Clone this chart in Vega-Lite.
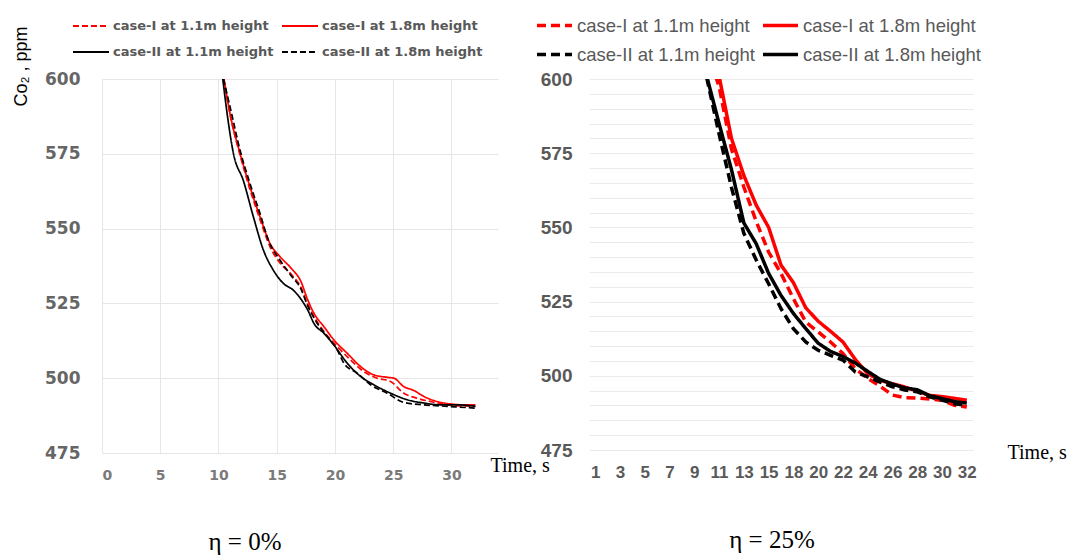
{
  "$schema": "https://vega.github.io/schema/vega-lite/v6.json",
  "background": "white",
  "padding": {"left": 12, "top": 6, "right": 0, "bottom": 0},
  "bounds": "flush",
  "spacing": 91,
  "config": {
    "view": {"stroke": null},
    "axis": {"domain": false, "ticks": false, "gridColor": "#e6e6e6", "gridWidth": 1}
  },
  "datasets": {
    "left": [
      {"s": "case-I at 1.1m height", "t": 10.45, "ppm": 600},
      {"s": "case-I at 1.1m height", "t": 11.0, "ppm": 588},
      {"s": "case-I at 1.1m height", "t": 11.86, "ppm": 574.5},
      {"s": "case-I at 1.1m height", "t": 12.71, "ppm": 563},
      {"s": "case-I at 1.1m height", "t": 13.57, "ppm": 553},
      {"s": "case-I at 1.1m height", "t": 14.43, "ppm": 543.9},
      {"s": "case-I at 1.1m height", "t": 15.29, "ppm": 538.5},
      {"s": "case-I at 1.1m height", "t": 16.3, "ppm": 534.5},
      {"s": "case-I at 1.1m height", "t": 17.06, "ppm": 530.5},
      {"s": "case-I at 1.1m height", "t": 17.63, "ppm": 525},
      {"s": "case-I at 1.1m height", "t": 18.2, "ppm": 520.6},
      {"s": "case-I at 1.1m height", "t": 19.06, "ppm": 515.6},
      {"s": "case-I at 1.1m height", "t": 20.2, "ppm": 510.6},
      {"s": "case-I at 1.1m height", "t": 21.34, "ppm": 506.1},
      {"s": "case-I at 1.1m height", "t": 22.49, "ppm": 502.2},
      {"s": "case-I at 1.1m height", "t": 23.63, "ppm": 500},
      {"s": "case-I at 1.1m height", "t": 24.77, "ppm": 498.9},
      {"s": "case-I at 1.1m height", "t": 25.91, "ppm": 495},
      {"s": "case-I at 1.1m height", "t": 27.06, "ppm": 493.3},
      {"s": "case-I at 1.1m height", "t": 28.2, "ppm": 492.2},
      {"s": "case-I at 1.1m height", "t": 29.63, "ppm": 491.1},
      {"s": "case-I at 1.1m height", "t": 32.06, "ppm": 490.6},
      {"s": "case-I at 1.8m height", "t": 10.45, "ppm": 600.5},
      {"s": "case-I at 1.8m height", "t": 11.0, "ppm": 588.3},
      {"s": "case-I at 1.8m height", "t": 11.86, "ppm": 575},
      {"s": "case-I at 1.8m height", "t": 12.71, "ppm": 563.9},
      {"s": "case-I at 1.8m height", "t": 13.57, "ppm": 553.9},
      {"s": "case-I at 1.8m height", "t": 14.43, "ppm": 545},
      {"s": "case-I at 1.8m height", "t": 15.29, "ppm": 540.6},
      {"s": "case-I at 1.8m height", "t": 16.3, "ppm": 536.5},
      {"s": "case-I at 1.8m height", "t": 17.06, "ppm": 532.5},
      {"s": "case-I at 1.8m height", "t": 17.63, "ppm": 526.5},
      {"s": "case-I at 1.8m height", "t": 18.2, "ppm": 521.7},
      {"s": "case-I at 1.8m height", "t": 19.06, "ppm": 517.2},
      {"s": "case-I at 1.8m height", "t": 19.91, "ppm": 512.8},
      {"s": "case-I at 1.8m height", "t": 21.06, "ppm": 508.3},
      {"s": "case-I at 1.8m height", "t": 22.2, "ppm": 503.9},
      {"s": "case-I at 1.8m height", "t": 23.34, "ppm": 501.1},
      {"s": "case-I at 1.8m height", "t": 24.49, "ppm": 500.3},
      {"s": "case-I at 1.8m height", "t": 25.06, "ppm": 500},
      {"s": "case-I at 1.8m height", "t": 25.91, "ppm": 497.2},
      {"s": "case-I at 1.8m height", "t": 26.77, "ppm": 495.9},
      {"s": "case-I at 1.8m height", "t": 27.63, "ppm": 493.9},
      {"s": "case-I at 1.8m height", "t": 28.77, "ppm": 492.2},
      {"s": "case-I at 1.8m height", "t": 29.91, "ppm": 491.4},
      {"s": "case-I at 1.8m height", "t": 31.06, "ppm": 491.1},
      {"s": "case-I at 1.8m height", "t": 32.06, "ppm": 491.1},
      {"s": "case-II at 1.1m height", "t": 10.37, "ppm": 600},
      {"s": "case-II at 1.1m height", "t": 10.71, "ppm": 589.4},
      {"s": "case-II at 1.1m height", "t": 11.29, "ppm": 575},
      {"s": "case-II at 1.1m height", "t": 12.14, "ppm": 566},
      {"s": "case-II at 1.1m height", "t": 13.0, "ppm": 553.9},
      {"s": "case-II at 1.1m height", "t": 13.86, "ppm": 542.8},
      {"s": "case-II at 1.1m height", "t": 14.71, "ppm": 536.1},
      {"s": "case-II at 1.1m height", "t": 15.57, "ppm": 531.7},
      {"s": "case-II at 1.1m height", "t": 16.43, "ppm": 529.4},
      {"s": "case-II at 1.1m height", "t": 17.14, "ppm": 526.1},
      {"s": "case-II at 1.1m height", "t": 17.7, "ppm": 522.5},
      {"s": "case-II at 1.1m height", "t": 18.2, "ppm": 518.3},
      {"s": "case-II at 1.1m height", "t": 19.06, "ppm": 515},
      {"s": "case-II at 1.1m height", "t": 19.91, "ppm": 511.1},
      {"s": "case-II at 1.1m height", "t": 21.06, "ppm": 505},
      {"s": "case-II at 1.1m height", "t": 22.2, "ppm": 500.6},
      {"s": "case-II at 1.1m height", "t": 23.34, "ppm": 497.8},
      {"s": "case-II at 1.1m height", "t": 24.77, "ppm": 495},
      {"s": "case-II at 1.1m height", "t": 26.2, "ppm": 492.8},
      {"s": "case-II at 1.1m height", "t": 27.63, "ppm": 491.7},
      {"s": "case-II at 1.1m height", "t": 29.06, "ppm": 491.1},
      {"s": "case-II at 1.1m height", "t": 30.49, "ppm": 491.1},
      {"s": "case-II at 1.1m height", "t": 32.06, "ppm": 490.6},
      {"s": "case-II at 1.8m height", "t": 10.43, "ppm": 600},
      {"s": "case-II at 1.8m height", "t": 11.0, "ppm": 590.6},
      {"s": "case-II at 1.8m height", "t": 11.86, "ppm": 576.1},
      {"s": "case-II at 1.8m height", "t": 12.71, "ppm": 565},
      {"s": "case-II at 1.8m height", "t": 13.57, "ppm": 555},
      {"s": "case-II at 1.8m height", "t": 14.29, "ppm": 546.1},
      {"s": "case-II at 1.8m height", "t": 15.29, "ppm": 539.4},
      {"s": "case-II at 1.8m height", "t": 16.3, "ppm": 534},
      {"s": "case-II at 1.8m height", "t": 17.06, "ppm": 530},
      {"s": "case-II at 1.8m height", "t": 17.63, "ppm": 524.5},
      {"s": "case-II at 1.8m height", "t": 18.49, "ppm": 518.3},
      {"s": "case-II at 1.8m height", "t": 19.34, "ppm": 513.9},
      {"s": "case-II at 1.8m height", "t": 20.2, "ppm": 509.4},
      {"s": "case-II at 1.8m height", "t": 20.77, "ppm": 505},
      {"s": "case-II at 1.8m height", "t": 21.91, "ppm": 501.7},
      {"s": "case-II at 1.8m height", "t": 23.06, "ppm": 497.8},
      {"s": "case-II at 1.8m height", "t": 24.49, "ppm": 495},
      {"s": "case-II at 1.8m height", "t": 25.91, "ppm": 491.9},
      {"s": "case-II at 1.8m height", "t": 27.63, "ppm": 491.1},
      {"s": "case-II at 1.8m height", "t": 29.63, "ppm": 490.6},
      {"s": "case-II at 1.8m height", "t": 32.06, "ppm": 490}
    ],
    "right": [
      {"s": "case-I at 1.1m height", "c": 10, "ppm": 610},
      {"s": "case-I at 1.1m height", "c": 11, "ppm": 597.5},
      {"s": "case-I at 1.1m height", "c": 12, "ppm": 576.5},
      {"s": "case-I at 1.1m height", "c": 13, "ppm": 563.6},
      {"s": "case-I at 1.1m height", "c": 14, "ppm": 552},
      {"s": "case-I at 1.1m height", "c": 15, "ppm": 541.7},
      {"s": "case-I at 1.1m height", "c": 17, "ppm": 534.5},
      {"s": "case-I at 1.1m height", "c": 18, "ppm": 526},
      {"s": "case-I at 1.1m height", "c": 19, "ppm": 518.1},
      {"s": "case-I at 1.1m height", "c": 20, "ppm": 514.8},
      {"s": "case-I at 1.1m height", "c": 21, "ppm": 511.4},
      {"s": "case-I at 1.1m height", "c": 22, "ppm": 507.5},
      {"s": "case-I at 1.1m height", "c": 23, "ppm": 502.4},
      {"s": "case-I at 1.1m height", "c": 24, "ppm": 499.1},
      {"s": "case-I at 1.1m height", "c": 25, "ppm": 496.5},
      {"s": "case-I at 1.1m height", "c": 26, "ppm": 493.5},
      {"s": "case-I at 1.1m height", "c": 27, "ppm": 492.6},
      {"s": "case-I at 1.1m height", "c": 28, "ppm": 492.5},
      {"s": "case-I at 1.1m height", "c": 29, "ppm": 492.2},
      {"s": "case-I at 1.1m height", "c": 30, "ppm": 491.8},
      {"s": "case-I at 1.1m height", "c": 31, "ppm": 490.1},
      {"s": "case-I at 1.1m height", "c": 32, "ppm": 489.5},
      {"s": "case-I at 1.8m height", "c": 11, "ppm": 601},
      {"s": "case-I at 1.8m height", "c": 12, "ppm": 580},
      {"s": "case-I at 1.8m height", "c": 13, "ppm": 567.5},
      {"s": "case-I at 1.8m height", "c": 14, "ppm": 557.5},
      {"s": "case-I at 1.8m height", "c": 15, "ppm": 550},
      {"s": "case-I at 1.8m height", "c": 17, "ppm": 537.3},
      {"s": "case-I at 1.8m height", "c": 18, "ppm": 531.4},
      {"s": "case-I at 1.8m height", "c": 19, "ppm": 522.9},
      {"s": "case-I at 1.8m height", "c": 20, "ppm": 518.4},
      {"s": "case-I at 1.8m height", "c": 21, "ppm": 515},
      {"s": "case-I at 1.8m height", "c": 22, "ppm": 511.4},
      {"s": "case-I at 1.8m height", "c": 23, "ppm": 505.5},
      {"s": "case-I at 1.8m height", "c": 24, "ppm": 500.7},
      {"s": "case-I at 1.8m height", "c": 25, "ppm": 498.5},
      {"s": "case-I at 1.8m height", "c": 26, "ppm": 497.3},
      {"s": "case-I at 1.8m height", "c": 27, "ppm": 496.2},
      {"s": "case-I at 1.8m height", "c": 28, "ppm": 494.8},
      {"s": "case-I at 1.8m height", "c": 29, "ppm": 493.4},
      {"s": "case-I at 1.8m height", "c": 30, "ppm": 493},
      {"s": "case-I at 1.8m height", "c": 31, "ppm": 492.4},
      {"s": "case-I at 1.8m height", "c": 32, "ppm": 491.8},
      {"s": "case-II at 1.1m height", "c": 10, "ppm": 600.5},
      {"s": "case-II at 1.1m height", "c": 11, "ppm": 581.5},
      {"s": "case-II at 1.1m height", "c": 12, "ppm": 563.5},
      {"s": "case-II at 1.1m height", "c": 13, "ppm": 548},
      {"s": "case-II at 1.1m height", "c": 14, "ppm": 539},
      {"s": "case-II at 1.1m height", "c": 15, "ppm": 531},
      {"s": "case-II at 1.1m height", "c": 17, "ppm": 522.6},
      {"s": "case-II at 1.1m height", "c": 18, "ppm": 515.9},
      {"s": "case-II at 1.1m height", "c": 19, "ppm": 511.4},
      {"s": "case-II at 1.1m height", "c": 20, "ppm": 508.6},
      {"s": "case-II at 1.1m height", "c": 21, "ppm": 506.9},
      {"s": "case-II at 1.1m height", "c": 22, "ppm": 505.3},
      {"s": "case-II at 1.1m height", "c": 23, "ppm": 501.3},
      {"s": "case-II at 1.1m height", "c": 24, "ppm": 499.6},
      {"s": "case-II at 1.1m height", "c": 25, "ppm": 497.9},
      {"s": "case-II at 1.1m height", "c": 26, "ppm": 496.3},
      {"s": "case-II at 1.1m height", "c": 27, "ppm": 495.2},
      {"s": "case-II at 1.1m height", "c": 28, "ppm": 494.6},
      {"s": "case-II at 1.1m height", "c": 29, "ppm": 492.9},
      {"s": "case-II at 1.1m height", "c": 30, "ppm": 491.8},
      {"s": "case-II at 1.1m height", "c": 31, "ppm": 490.6},
      {"s": "case-II at 1.1m height", "c": 32, "ppm": 490.1},
      {"s": "case-II at 1.8m height", "c": 10, "ppm": 601},
      {"s": "case-II at 1.8m height", "c": 11, "ppm": 585},
      {"s": "case-II at 1.8m height", "c": 12, "ppm": 569.5},
      {"s": "case-II at 1.8m height", "c": 13, "ppm": 551.5},
      {"s": "case-II at 1.8m height", "c": 14, "ppm": 544.5},
      {"s": "case-II at 1.8m height", "c": 15, "ppm": 534.5},
      {"s": "case-II at 1.8m height", "c": 17, "ppm": 527.1},
      {"s": "case-II at 1.8m height", "c": 18, "ppm": 521},
      {"s": "case-II at 1.8m height", "c": 19, "ppm": 515.9},
      {"s": "case-II at 1.8m height", "c": 20, "ppm": 511},
      {"s": "case-II at 1.8m height", "c": 21, "ppm": 508.2},
      {"s": "case-II at 1.8m height", "c": 22, "ppm": 506.5},
      {"s": "case-II at 1.8m height", "c": 23, "ppm": 504.3},
      {"s": "case-II at 1.8m height", "c": 24, "ppm": 501.5},
      {"s": "case-II at 1.8m height", "c": 25, "ppm": 498.8},
      {"s": "case-II at 1.8m height", "c": 26, "ppm": 497.2},
      {"s": "case-II at 1.8m height", "c": 27, "ppm": 495.9},
      {"s": "case-II at 1.8m height", "c": 28, "ppm": 495.3},
      {"s": "case-II at 1.8m height", "c": 29, "ppm": 493.3},
      {"s": "case-II at 1.8m height", "c": 30, "ppm": 492.3},
      {"s": "case-II at 1.8m height", "c": 31, "ppm": 491.3},
      {"s": "case-II at 1.8m height", "c": 32, "ppm": 490.8}
    ]
  },
  "resolve": {
    "scale": {"color": "independent", "strokeDash": "independent", "x": "independent", "y": "independent"},
    "legend": {"color": "independent", "strokeDash": "independent"}
  },
  "hconcat": [
    {
      "width": 396,
      "height": 374,
      "data": {"name": "left"},
      "title": {"text": "η = 0%", "orient": "bottom", "anchor": "middle", "frame": "group", "dx": -55, "offset": 48, "font": "Liberation Serif", "fontSize": 25, "fontWeight": "normal", "color": "#000000"},
      "mark": {"type": "line", "interpolate": "monotone", "clip": true, "strokeWidth": 1.7},
      "encoding": {
        "x": {
          "field": "t", "type": "quantitative",
          "scale": {"domain": [0, 34], "nice": false, "zero": false},
          "axis": {
            "values": [0, 5, 10, 15, 20, 25, 30], "grid": true,
            "labelFont": "DejaVu Sans", "labelFontWeight": "bold", "labelFontSize": 14, "labelColor": "#7a7a7a", "labelPadding": 15,
            "title": "Time, s", "titleFont": "Liberation Serif", "titleFontSize": 20, "titleFontWeight": "normal", "titleColor": "#000000",
            "titleAlign": "left", "titleBaseline": "alphabetic", "titleX": 388, "titleY": 18
          }
        },
        "y": {
          "field": "ppm", "type": "quantitative",
          "scale": {"domain": [475, 600], "nice": false, "zero": false},
          "axis": {
            "values": [475, 500, 525, 550, 575, 600], "grid": true,
            "labelFont": "DejaVu Sans", "labelFontWeight": "bold", "labelFontSize": 17, "labelColor": "#666666", "labelPadding": 22,
            "title": "Co₂ , ppm", "titleFont": "Liberation Sans", "titleFontSize": 18, "titleFontWeight": "normal", "titleColor": "#000000",
            "titleAngle": -90, "titleAlign": "center", "titleBaseline": "middle", "titleX": -81, "titleY": -13
          }
        },
        "color": {
          "field": "s", "type": "nominal",
          "scale": {"domain": ["case-I at 1.1m height", "case-I at 1.8m height", "case-II at 1.1m height", "case-II at 1.8m height"], "range": ["#ff0000", "#ff0000", "#000000", "#000000"]},
          "legend": {"title": null, "orient": "none", "direction": "horizontal", "legendX": -30, "legendY": -72, "columns": 2, "columnPadding": 4, "rowPadding": -1, "symbolType": "stroke", "symbolSize": 1300, "symbolStrokeWidth": 1.8, "labelFont": "DejaVu Sans", "labelFontWeight": "bold", "labelFontSize": 13, "labelColor": "#595959", "labelOffset": 3, "labelLimit": 400}
        },
        "strokeDash": {
          "field": "s", "type": "nominal",
          "scale": {"domain": ["case-I at 1.1m height", "case-I at 1.8m height", "case-II at 1.1m height", "case-II at 1.8m height"], "range": [[6, 3], [1, 0], [1, 0], [6, 3]]},
          "legend": {"title": null, "orient": "none", "direction": "horizontal", "legendX": -30, "legendY": -72, "columns": 2, "columnPadding": 4, "rowPadding": -1, "symbolType": "stroke", "symbolSize": 1300, "symbolStrokeWidth": 1.8, "labelFont": "DejaVu Sans", "labelFontWeight": "bold", "labelFontSize": 13, "labelColor": "#595959", "labelOffset": 3, "labelLimit": 400}
        }
      }
    },
    {
      "width": 384,
      "height": 371,
      "data": {"name": "right"},
      "title": {"text": "η = 25%", "orient": "bottom", "anchor": "middle", "frame": "group", "dx": -9, "offset": 48, "font": "Liberation Serif", "fontSize": 25, "fontWeight": "normal", "color": "#000000"},
      "mark": {"type": "line", "clip": true, "strokeWidth": 3.5},
      "encoding": {
        "x": {
          "field": "c", "type": "ordinal",
          "scale": {"type": "point", "padding": 0.5, "domain": [1, 2, 3, 4, 5, 6, 7, 8, 9, 10, 11, 12, 13, 14, 15, 17, 18, 19, 20, 21, 22, 23, 24, 25, 26, 27, 28, 29, 30, 31, 32]},
          "axis": {
            "values": [1, 3, 5, 7, 9, 11, 13, 15, 18, 20, 22, 24, 26, 28, 30, 32], "grid": false, "labelAngle": 0, "labelOverlap": false,
            "labelFont": "Liberation Sans", "labelFontWeight": "bold", "labelFontSize": 17, "labelColor": "#595959", "labelPadding": 14,
            "title": "Time, s", "titleFont": "Liberation Serif", "titleFontSize": 20, "titleFontWeight": "normal", "titleColor": "#000000",
            "titleAlign": "left", "titleBaseline": "alphabetic", "titleX": 418, "titleY": 8
          }
        },
        "y": {
          "field": "ppm", "type": "quantitative",
          "scale": {"domain": [475, 600], "nice": false, "zero": false},
          "axis": {
            "values": [475, 480, 485, 490, 495, 500, 505, 510, 515, 520, 525, 530, 535, 540, 545, 550, 555, 560, 565, 570, 575, 580, 585, 590, 595, 600],
            "labelExpr": "datum.value % 25 === 0 ? datum.label : ''",
            "grid": true, "gridColor": "#ebebeb",
            "labelFont": "Liberation Sans", "labelFontWeight": "bold", "labelFontSize": 19, "labelColor": "#595959", "labelPadding": 17,
            "title": null
          }
        },
        "color": {
          "field": "s", "type": "nominal",
          "scale": {"domain": ["case-I at 1.1m height", "case-I at 1.8m height", "case-II at 1.1m height", "case-II at 1.8m height"], "range": ["#ff0000", "#ff0000", "#000000", "#000000"]},
          "legend": {"title": null, "orient": "none", "direction": "horizontal", "legendX": -54, "legendY": -73, "columns": 2, "columnPadding": 1, "rowPadding": -3, "symbolType": "stroke", "symbolSize": 1225, "symbolStrokeWidth": 3.5, "labelFont": "Liberation Sans", "labelFontSize": 18.5, "labelColor": "#595959", "labelOffset": 3, "labelLimit": 400}
        },
        "strokeDash": {
          "field": "s", "type": "nominal",
          "scale": {"domain": ["case-I at 1.1m height", "case-I at 1.8m height", "case-II at 1.1m height", "case-II at 1.8m height"], "range": [[9, 5], [1, 0], [9, 5], [1, 0]]},
          "legend": {"title": null, "orient": "none", "direction": "horizontal", "legendX": -54, "legendY": -73, "columns": 2, "columnPadding": 1, "rowPadding": -3, "symbolType": "stroke", "symbolSize": 1225, "symbolStrokeWidth": 3.5, "labelFont": "Liberation Sans", "labelFontSize": 18.5, "labelColor": "#595959", "labelOffset": 3, "labelLimit": 400}
        }
      }
    }
  ]
}
